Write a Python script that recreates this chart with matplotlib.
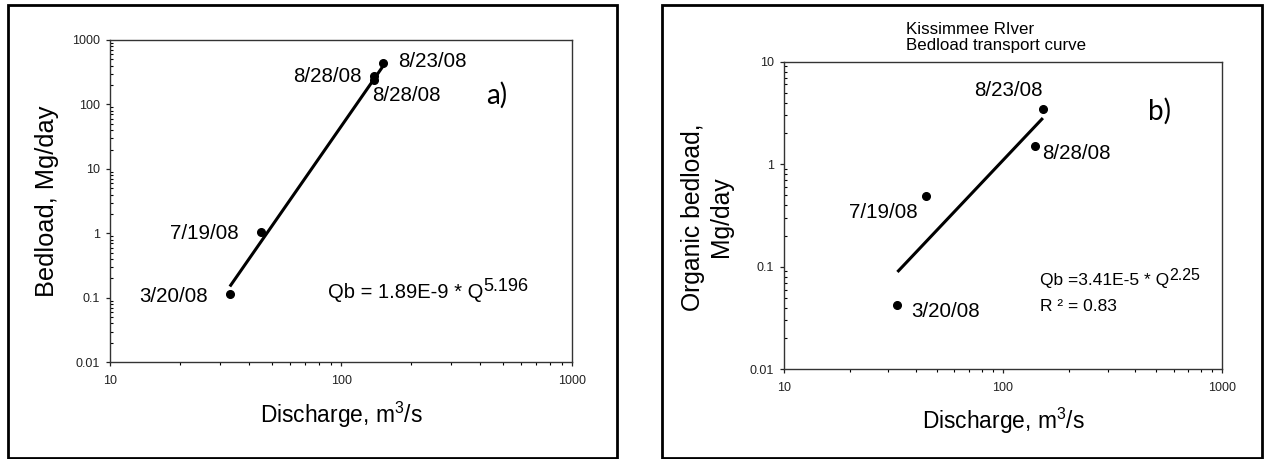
import matplotlib
matplotlib.use("Agg")
import matplotlib.pyplot as plt
from matplotlib.patches import Rectangle
from matplotlib.ticker import LogLocator, NullFormatter

plt.rcParams['font.family'] = ['Liberation Sans', 'DejaVu Sans']

# ---------------- data ----------------
dates_a = ["3/20/08", "7/19/08", "8/28/08", "8/28/08", "8/23/08"]
q_a = [33.0, 44.9, 138.7, 138.7, 152.0]
bed_a = [0.113, 1.06, 275.0, 238.0, 441.0]
fit_a_q = [33.0, 153.0]
fit_a_bed = [0.15, 410.0]

dates_b = ["3/20/08", "7/19/08", "8/28/08", "8/23/08"]
q_b = [33.0, 44.6, 139.9, 151.7]
bed_b = [0.042, 0.49, 1.51, 3.48]
fit_b_q = [33.0, 152.0]
fit_b_bed = [0.089, 2.82]

x_ticks = [10, 100, 1000]
x_ticklabels = ["10", "100", "1000"]
ya_ticks = [0.01, 0.1, 1, 10, 100, 1000]
ya_ticklabels = ["0.01", "0.1", "1", "10", "100", "1000"]
yb_ticks = [0.01, 0.1, 1, 10]
yb_ticklabels = ["0.01", "0.1", "1", "10"]

# label offsets (pixels) and alignment per point
off_a = [(-22, -2, 'right'), (-22, -2, 'right'), (-12, 0, 'right'), (-2, -15, 'left'), (15, 1, 'left')]
off_b = [(14, -6, 'left'), (-8, -17, 'right'), (7, -8, 'left'), (0, 18, 'right')]

W, H = 1264, 459
fig = plt.figure(figsize=(W / 100, H / 100), dpi=100)


def px_rect(x0, y0, x1, y1):
    return [x0 / W, 1 - y1 / H, (x1 - x0) / W, (y1 - y0) / H]


def style_axes(ax, yt, ytl):
    ax.set_xscale('log')
    ax.set_yscale('log')
    ax.set_xlim(10, 1000)
    ax.set_ylim(yt[0], yt[-1])
    ax.set_xticks(x_ticks)
    ax.set_xticklabels(x_ticklabels)
    ax.set_yticks(yt)
    ax.set_yticklabels(ytl)
    ax.xaxis.set_minor_locator(LogLocator(base=10, subs=range(2, 10)))
    ax.yaxis.set_minor_locator(LogLocator(base=10, subs=range(2, 10)))
    ax.xaxis.set_minor_formatter(NullFormatter())
    ax.yaxis.set_minor_formatter(NullFormatter())
    ax.tick_params(axis='both', which='major', direction='out', length=3,
                   width=0.9, labelsize=9, colors='#222222')
    ax.tick_params(axis='x', which='major', pad=6)
    ax.tick_params(axis='y', which='major', pad=4)
    ax.tick_params(axis='x', which='minor', direction='out', length=2, width=0.8)
    ax.tick_params(axis='y', which='minor', direction='in', length=2, width=0.8)
    for s in ax.spines.values():
        s.set_linewidth(1.0)
        s.set_color('#333333')


def equation(ax, x, y, main, sup, size, supsize):
    t = ax.text(x, y, main, transform=ax.transAxes, fontsize=size,
                ha='left', va='center')
    ax.annotate(sup, xy=(1.0, 0.78), xycoords=t, ha='left', va='center',
                fontsize=supsize)
    return t


# ---------------- panel a ----------------
axa = fig.add_axes(px_rect(110, 40, 572.3, 362.3))
style_axes(axa, ya_ticks, ya_ticklabels)
axa.plot(fit_a_q, fit_a_bed, color='black', lw=2.2, solid_capstyle='butt')
axa.plot(q_a, bed_a, 'o', color='black', ms=5.5)
for d, x, y, (dx, dy, ha) in zip(dates_a, q_a, bed_a, off_a):
    axa.annotate(d, (x, y), xytext=(dx, dy), textcoords='offset pixels',
                 ha=ha, va='center', fontsize=14.8)
equation(axa, 0.471, 0.218, "Qb = 1.89E-9 * Q", "5.196", 14.5, 13)
axa.text(-0.136, 0.5, "Bedload, Mg/day", transform=axa.transAxes, rotation=90,
         ha='center', va='center', fontsize=18.3)
axa.text(0.5, -0.1635, r"Discharge, m$^{\mathregular{3}}$/s", transform=axa.transAxes,
         ha='center', va='center', fontsize=16.4)
fig.text(486 / W, 1 - 95 / H, "a)", family=['Lato', 'DejaVu Sans'], fontsize=20,
         ha='left', va='center')

# ---------------- panel b ----------------
axb = fig.add_axes(px_rect(783.7, 61.7, 1222.3, 369.3))
style_axes(axb, yb_ticks, yb_ticklabels)
axb.plot(fit_b_q, fit_b_bed, color='black', lw=2.2, solid_capstyle='butt')
axb.plot(q_b, bed_b, 'o', color='black', ms=5.5)
for d, x, y, (dx, dy, ha) in zip(dates_b, q_b, bed_b, off_b):
    axb.annotate(d, (x, y), xytext=(dx, dy), textcoords='offset pixels',
                 ha=ha, va='center', fontsize=14.8)
equation(axb, 0.584, 0.29, "Qb =3.41E-5 * Q", "2.25", 12.5, 11.5)
axb.text(0.584, 0.203, "R ² = 0.83", transform=axb.transAxes,
         fontsize=12.5, ha='left', va='center')
axb.text(-0.175, 0.495, "Organic bedload,\nMg/day", transform=axb.transAxes, rotation=90,
         ha='center', va='center', fontsize=17.8, multialignment='center')
axb.text(0.5, -0.167, r"Discharge, m$^{\mathregular{3}}$/s", transform=axb.transAxes,
         ha='center', va='center', fontsize=16.4)
fig.text(1148 / W, 1 - 111.7 / H, "b)", family=['Lato', 'DejaVu Sans'], fontsize=20,
         ha='left', va='center')
fig.text(906 / W, 1 - 37.5 / H, "Kissimmee RIver\nBedload transport curve",
         fontsize=12.2, ha='left', va='center', linespacing=1.15)

# ---------------- frames ----------------
for (x0, y0, x1, y1) in [(8, 5, 617, 457.5), (662, 5, 1262, 457.5)]:
    r = px_rect(x0, y0, x1, y1)
    fig.add_artist(Rectangle((r[0], r[1]), r[2], r[3], transform=fig.transFigure,
                             fill=False, lw=2.0, edgecolor='black'))

fig.savefig("out.png", dpi=100)
